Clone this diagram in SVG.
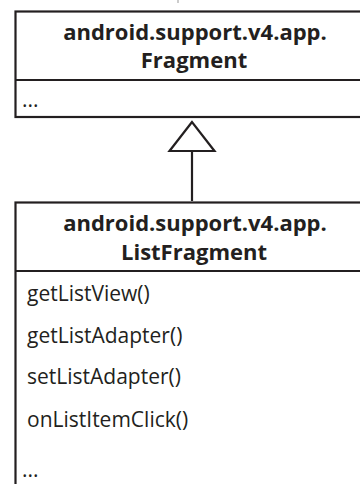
<svg xmlns="http://www.w3.org/2000/svg" width="360" height="484" viewBox="0 0 360 484">
<style>
.box{fill:#fff;stroke:#231f20;stroke-width:2.2}
.ln{stroke:#231f20;stroke-width:2.2;fill:none}
.title{font-family:"Open Sans","Liberation Sans",sans-serif;font-weight:bold;font-size:22px;fill:#231f20;text-anchor:middle}
.item{font-family:"Open Sans","Liberation Sans",sans-serif;font-size:21px;fill:#231f20}
</style>
<rect width="360" height="484" fill="#fff"/>
<line x1="178" y1="0" x2="178" y2="3" stroke="#999" stroke-width="1"/>
<g id="fragment">
<rect class="box" x="15.5" y="11.5" width="370" height="105.5"/>
<line class="ln" x1="15.5" y1="80" x2="385" y2="80"/>
<text class="title" x="195" y="40">android.support.v4.app.</text>
<text class="title" x="194" y="67.5">Fragment</text>
<text class="item" x="22" y="107">...</text>
</g>
<g id="listfragment">
<rect class="box" x="15.5" y="202.5" width="370" height="300"/>
<line class="ln" x1="15.5" y1="271" x2="385" y2="271"/>
<text class="title" x="195" y="231">android.support.v4.app.</text>
<text class="title" x="194" y="259.5">ListFragment</text>
<text class="item" x="27" y="301">getListView()</text>
<text class="item" x="27" y="343">getListAdapter()</text>
<text class="item" x="27" y="384">setListAdapter()</text>
<text class="item" x="27" y="427">onListItemClick()</text>
<text class="item" x="22" y="477">...</text>
</g>
<g id="connectors">
<line class="ln" x1="192" y1="151" x2="192" y2="201"/>
<polygon class="ln" points="192,122 169.5,151 214.5,151" fill="#fff"/>
</g>
</svg>
